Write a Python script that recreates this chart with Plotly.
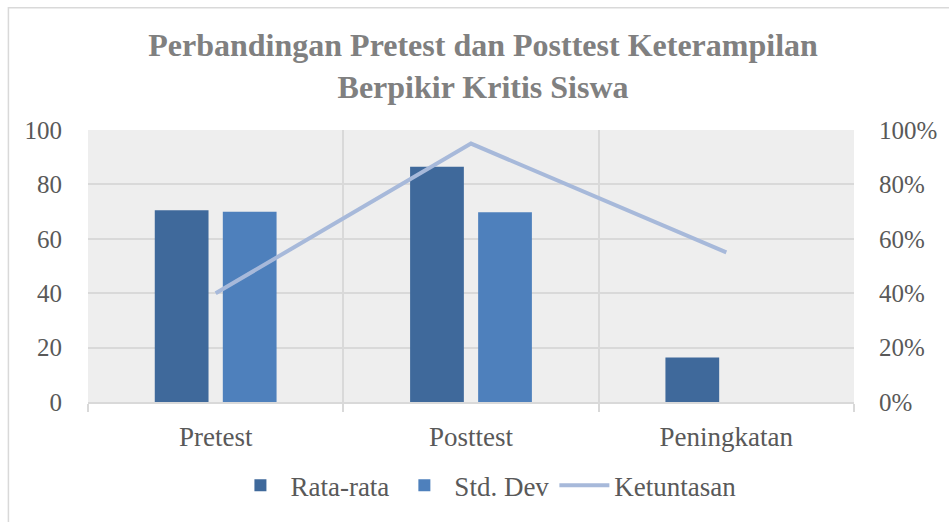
import plotly.graph_objects as go

categories = ["Pretest", "Posttest", "Peningkatan"]
rata_rata = [70.5, 86.5, 16.4]
std_dev = [69.9, 69.8, None]
ketuntasan = [0.40, 0.95, 0.55]
y_ticks = [0, 20, 40, 60, 80, 100]
y2_ticks = [0, 0.2, 0.4, 0.6, 0.8, 1.0]

FONT = "Liberation Serif"
TXT = "#595959"
GRID = "#D9D9D9"

fig = go.Figure()
fig.add_trace(go.Bar(name="Rata-rata", x=categories, y=rata_rata,
                     marker=dict(color="#3F699B", line=dict(width=0))))
fig.add_trace(go.Bar(name="Std. Dev", x=categories, y=std_dev,
                     marker=dict(color="#4E80BC", line=dict(width=0))))
fig.add_trace(go.Scatter(name="Ketuntasan", x=categories, y=ketuntasan,
                         mode="lines", yaxis="y2",
                         line=dict(color="#A7B9DA", width=4)))

W, H = 949, 522
L, R, T, B = 88, 91, 130, 116

fig.update_layout(
    width=W, height=H,
    margin=dict(l=L, r=R, t=T, b=B, pad=0),
    paper_bgcolor="white",
    plot_bgcolor="#EEEEEE",
    barmode="group",
    bargap=0.467,
    bargroupgap=0.21,
    font=dict(family=FONT, size=24, color=TXT),
    title=dict(
        text="<b>Perbandingan Pretest dan Posttest Keterampilan<br>Berpikir Kritis Siswa</b>",
        x=0.509, xref="container", xanchor="center",
        y=1 - 56 / H, yref="container", yanchor="top",
        font=dict(family=FONT, size=32, color="#808080"),
    ),
    xaxis=dict(
        type="category",
        tickson="boundaries",
        showgrid=True, gridcolor=GRID, gridwidth=1.5,
        ticks="outside", ticklen=8, tickcolor=GRID, tickwidth=1.5,
        showline=True, linecolor=GRID, linewidth=1.5,
        ticklabelstandoff=10,
        tickfont=dict(family=FONT, size=27, color=TXT),
        range=[-0.5, 2.5],
    ),
    yaxis=dict(
        range=[0, 100], tickvals=y_ticks,
        showgrid=True, gridcolor=GRID, gridwidth=1.5,
        zeroline=False, showline=False,
        ticks="", ticklabelstandoff=25,
        tickfont=dict(family=FONT, size=25, color=TXT),
    ),
    yaxis2=dict(
        range=[0, 1], tickvals=y2_ticks, tickformat=".0%",
        overlaying="y", side="right",
        showgrid=False, zeroline=False, showline=False,
        ticks="", ticklabelstandoff=24,
        tickfont=dict(family=FONT, size=25, color=TXT),
    ),
    legend=dict(
        orientation="h",
        x=(488 - L) / (W - L - R), xanchor="center",
        y=(H - B - 491) / (H - T - B), yanchor="middle",
        font=dict(family=FONT, size=27, color=TXT),
        itemwidth=50,
        bgcolor="rgba(0,0,0,0)",
        traceorder="normal",
    ),
    showlegend=True,
)

pw = W - L - R
ph = H - T - B
fig.add_shape(type="rect", xref="paper", yref="paper",
              x0=(8 - L) / pw, x1=(W + 20 - L) / pw,
              y0=(H - B - (H + 20)) / ph, y1=(H - B - 6) / ph,
              line=dict(color="#D9D9D9", width=1.5), fillcolor="rgba(0,0,0,0)",
              layer="below")

fig.write_html("out.html",
               config={"displayModeBar": False},
               post_script="document.body.style.margin='0';document.body.style.overflow='hidden';")
